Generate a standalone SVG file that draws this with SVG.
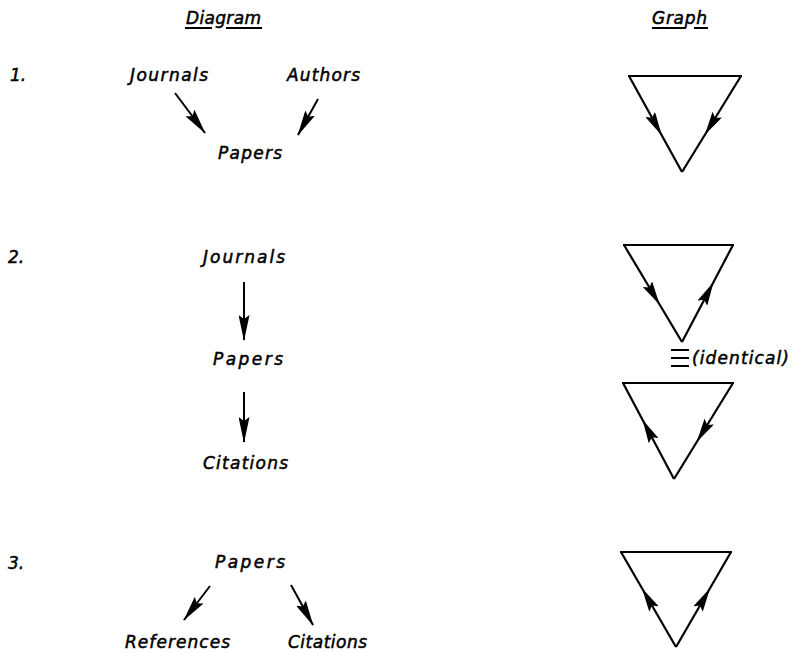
<svg xmlns="http://www.w3.org/2000/svg" width="794" height="652" viewBox="0 0 794 652">
<style>
text{font-family:"DejaVu Sans","Liberation Sans",sans-serif;font-style:italic;font-size:17px;fill:#000;stroke:#000;stroke-width:0.5px}
.ln{stroke:#000;stroke-width:2;fill:none}
.tri{stroke:#000;stroke-width:2.2;fill:none;stroke-linejoin:miter}
</style>
<defs>
<marker id="ah" markerUnits="userSpaceOnUse" viewBox="0 0 26 11" refX="25" refY="5.5" markerWidth="26" markerHeight="11" orient="auto">
<path d="M0,0 L26,5.5 L0,11 L4,5.5 Z" fill="#000"/>
</marker>
<marker id="mid" markerUnits="userSpaceOnUse" viewBox="0 0 24 11" refX="11" refY="5.5" markerWidth="24" markerHeight="11" orient="auto">
<path d="M0,0 L24,5.5 L0,11 L4,5.5 Z" fill="#000"/>
</marker>
</defs>

<g id="headers">
<text x="186" y="24" textLength="75" lengthAdjust="spacing">Diagram</text>
<line class="ln" x1="185" y1="28" x2="212" y2="28" stroke-width="1.5"/>
<line class="ln" x1="226" y1="28" x2="262" y2="28" stroke-width="1.5"/>
<text x="652" y="24" textLength="55" lengthAdjust="spacing">Graph</text>
<line class="ln" x1="652" y1="28" x2="686" y2="28" stroke-width="1.5"/>
<line class="ln" x1="694" y1="28" x2="708" y2="28" stroke-width="1.5"/>
</g>

<g id="labels">
<text x="10" y="81">1.</text>
<text x="8" y="263">2.</text>
<text x="8" y="569">3.</text>
</g>

<g id="n1-journals"><text x="130" y="81" textLength="78" lengthAdjust="spacing">Journals</text></g>
<g id="n1-authors"><text x="287" y="81" textLength="73" lengthAdjust="spacing">Authors</text></g>
<g id="n1-papers"><text x="218" y="159" textLength="64" lengthAdjust="spacing">Papers</text></g>

<g id="n2-journals"><text x="203" y="263" textLength="82" lengthAdjust="spacing">Journals</text></g>
<g id="n2-papers"><text x="213" y="365" textLength="70" lengthAdjust="spacing">Papers</text></g>
<g id="n2-citations"><text x="203" y="469" textLength="85" lengthAdjust="spacing">Citations</text></g>

<g id="n3-papers"><text x="215" y="568" textLength="70" lengthAdjust="spacing">Papers</text></g>
<g id="n3-references"><text x="125" y="648" textLength="105" lengthAdjust="spacing">References</text></g>
<g id="n3-citations"><text x="288" y="648" textLength="79" lengthAdjust="spacing">Citations</text></g>

<g id="identical">
<line class="ln" x1="671" y1="350" x2="689" y2="350"/>
<line class="ln" x1="671" y1="358" x2="689" y2="358"/>
<line class="ln" x1="671" y1="366" x2="689" y2="366"/>
<text x="692" y="364" textLength="97" lengthAdjust="spacing">(identical)</text>
</g>

<g id="connectors">
<line class="ln" x1="175" y1="93" x2="205" y2="133" marker-end="url(#ah)"/>
<line class="ln" x1="318" y1="99" x2="298" y2="135" marker-end="url(#ah)"/>
<line class="ln" x1="244" y1="282" x2="244" y2="340" marker-end="url(#ah)"/>
<line class="ln" x1="244" y1="392" x2="244" y2="442" marker-end="url(#ah)"/>
<line class="ln" x1="210" y1="586" x2="184" y2="620" marker-end="url(#ah)"/>
<line class="ln" x1="291" y1="585" x2="313" y2="625" marker-end="url(#ah)"/>
</g>

<g id="graph1">
<line class="tri" x1="628" y1="76" x2="742" y2="76"/>
<path class="tri" d="M629,76 L655.5,124 L682,172" marker-mid="url(#mid)"/>
<path class="tri" d="M741,76 L711.5,124 L682,172" marker-mid="url(#mid)"/>
</g>

<g id="graph2a">
<line class="tri" x1="623" y1="245" x2="734" y2="245"/>
<path class="tri" d="M624,245 L653,293.5 L682,342" marker-mid="url(#mid)"/>
<path class="tri" d="M682,342 L707.5,293.5 L733,245" marker-mid="url(#mid)"/>
</g>

<g id="graph2b">
<line class="tri" x1="622" y1="383" x2="734" y2="383"/>
<path class="tri" d="M674,479 L648.5,431 L623,383" marker-mid="url(#mid)"/>
<path class="tri" d="M733,383 L703.5,431 L674,479" marker-mid="url(#mid)"/>
</g>

<g id="graph3">
<line class="tri" x1="620" y1="552" x2="732" y2="552"/>
<path class="tri" d="M676,647 L648.5,599.5 L621,552" marker-mid="url(#mid)"/>
<path class="tri" d="M676,647 L703.5,599.5 L731,552" marker-mid="url(#mid)"/>
</g>
</svg>
